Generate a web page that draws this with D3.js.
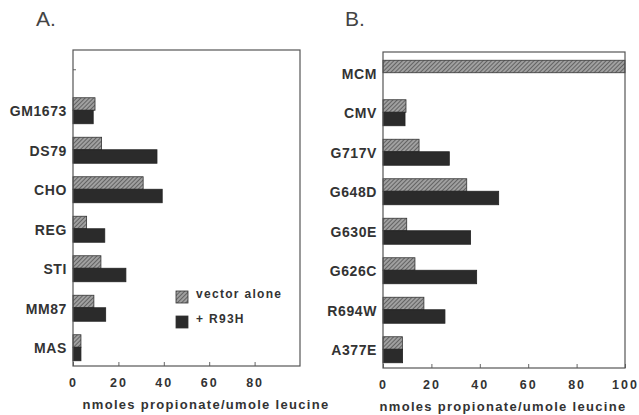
<!DOCTYPE html>
<html lang="en">
<head>
    <meta charset="UTF-8">
    <title>Propionate incorporation</title>
    <script src="https://d3js.org/d3.v7.min.js"></script>
    <style>
        body { margin: 0; background: #fff; }
        svg { font-family: "Liberation Sans", Arial, sans-serif; }
        .frame { fill: none; stroke: #555; stroke-width: 1.2; }
        .cat text { font-size: 14px; font-weight: bold; fill: #333; letter-spacing: 0.6px; }
        .xax text { font-size: 12.5px; font-weight: bold; fill: #333; letter-spacing: 2px; }
        .axis path { display: none; }
        .axis line { stroke: #666; }
        .xtitle { font-size: 13px; font-weight: bold; fill: #333; letter-spacing: 1.3px; }
        .ptitle { font-size: 21px; fill: #444; }
        .legend text { font-size: 12px; font-weight: bold; fill: #333; letter-spacing: 1.3px; }
    </style>
</head>
<body>
    <svg id="chart" width="639" height="415"></svg>

    <script>
        // panel A data
        const catsA = ["", "GM1673", "DS79", "CHO", "REG", "STI", "MM87", "MAS"];
        const vectorA = [null, 9.7, 12.6, 30.9, 6.0, 12.3, 9.2, 3.5];
        const r93hA = [null, 8.9, 37, 39.3, 14, 23.3, 14.4, 3.5];
        const ticksA = [0, 20, 40, 60, 80];

        // panel B data
        const catsB = ["MCM", "CMV", "G717V", "G648D", "G630E", "G626C", "R694W", "A377E"];
        const vectorB = [100, 9.5, 14.9, 34.6, 9.8, 13.2, 16.9, 8.0];
        const r93hB = [null, 9.1, 27.4, 47.8, 36.2, 38.7, 25.6, 8.1];
        const ticksB = [0, 20, 40, 60, 80, 100];

        const legendLabels = ["vector alone", "+ R93H"];
        const xTitle = "nmoles propionate/umole leucine";

        const svg = d3.select("#chart");

        // hatch pattern for "vector alone"
        const pat = svg.append("defs").append("pattern")
            .attr("id", "hatch")
            .attr("patternUnits", "userSpaceOnUse")
            .attr("width", 3)
            .attr("height", 3)
            .attr("patternTransform", "rotate(45)");
        pat.append("rect").attr("width", 3).attr("height", 3).attr("fill", "#a0a0a0");
        pat.append("line").attr("x1", 0).attr("y1", 0).attr("x2", 0).attr("y2", 3)
            .attr("stroke", "#3a3a3a").attr("stroke-width", 1.2);

        function panel(p) {
            const g = svg.append("g");
            const x = d3.scaleLinear().domain([0, 100]).range([p.left, p.right]);
            const y = d3.scaleBand().domain(p.cats).range([p.top, p.bottom]);

            // y axis (ticks point inward)
            g.append("g")
                .attr("class", "axis cat")
                .attr("transform", `translate(${p.left},0)`)
                .call(d3.axisLeft(y).tickSizeInner(-3).tickSizeOuter(0).tickPadding(6));
            g.selectAll(".cat text").attr("dy", "0.5em");

            // x axis (ticks point up into the frame)
            g.append("g")
                .attr("class", "axis xax")
                .attr("transform", `translate(0,${p.bottom})`)
                .call(d3.axisBottom(x).tickValues(p.ticks).tickSizeInner(-4).tickSizeOuter(0).tickPadding(12));

            const rows = p.cats.map((c, i) => ({cat: c, v: p.vec[i], r: p.r93[i]}));
            const bh = 13.5;

            g.selectAll(".bv")
                .data(rows.filter(d => d.v != null))
                .enter().append("rect")
                .attr("x", x(0))
                .attr("y", d => y(d.cat) + y.bandwidth() / 2 + 2 - bh)
                .attr("width", d => x(d.v) - x(0))
                .attr("height", bh - 1)
                .attr("fill", "url(#hatch)")
                .attr("stroke", "#333")
                .attr("stroke-width", 0.8);

            g.selectAll(".br")
                .data(rows.filter(d => d.r != null))
                .enter().append("rect")
                .attr("x", x(0))
                .attr("y", d => y(d.cat) + y.bandwidth() / 2 + 1)
                .attr("width", d => x(d.r) - x(0))
                .attr("height", bh)
                .attr("fill", "#2b2b2b")
                .attr("stroke", "#222")
                .attr("stroke-width", 0.8);

            g.append("rect")
                .attr("class", "frame")
                .attr("x", p.left)
                .attr("y", p.top)
                .attr("width", p.right - p.left)
                .attr("height", p.bottom - p.top);

            g.append("text")
                .attr("class", "xtitle")
                .attr("x", p.titleX)
                .attr("y", p.bottom + 43)
                .attr("text-anchor", "middle")
                .text(xTitle);

            g.append("text")
                .attr("class", "ptitle")
                .attr("x", p.labelX)
                .attr("y", 26)
                .text(p.label);

            return {x, y};
        }

        panel({cats: catsA, vec: vectorA, r93: r93hA, ticks: ticksA,
               left: 73, right: 300, top: 50, bottom: 366, titleX: 206, labelX: 36, label: "A."});
        panel({cats: catsB, vec: vectorB, r93: r93hB, ticks: ticksB,
               left: 383, right: 625, top: 52, bottom: 368, titleX: 503, labelX: 345, label: "B."});

        // legend
        const leg = svg.append("g").attr("class", "legend");
        legendLabels.forEach((t, i) => {
            leg.append("rect")
                .attr("x", 176)
                .attr("y", 291 + i * 25)
                .attr("width", 12)
                .attr("height", 12)
                .attr("fill", i === 0 ? "url(#hatch)" : "#2b2b2b")
                .attr("stroke", "#333")
                .attr("stroke-width", 0.8);
            leg.append("text")
                .attr("x", 196)
                .attr("y", 298 + i * 25)
                .text(t);
        });
    </script>
</body>
</html>
